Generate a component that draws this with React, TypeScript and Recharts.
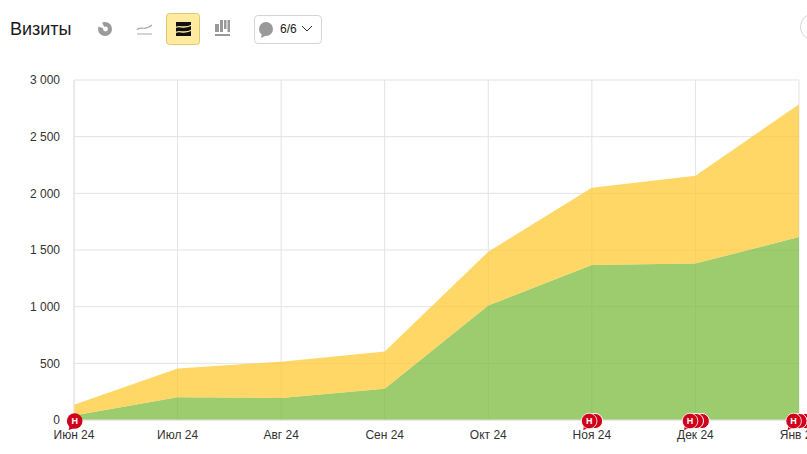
import React from "react";
import { AreaChart, Area, XAxis, YAxis, CartesianGrid, ReferenceDot } from "recharts";

const months = ["Июн 24", "Июл 24", "Авг 24", "Сен 24", "Окт 24", "Ноя 24", "Дек 24", "Янв 25"];
const greenValues = [40, 200, 195, 275, 1010, 1368, 1380, 1615];
const yellowValues = [95, 255, 320, 330, 475, 682, 775, 1170];
const yTicks = [0, 500, 1000, 1500, 2000, 2500, 3000];
const noteCounts = [1, 0, 0, 0, 0, 2, 3, 3];

const data = months.map((month, i) => ({ month, green: greenValues[i], yellow: yellowValues[i] }));
const FONT = "'Liberation Sans', Arial, sans-serif";
const RED = "#d0021b";

const NoteMarker = (props: any) => {
  const { cx, cy, count } = props;
  const fx = cx + (count === 1 ? 0.7 : -(count - 1) * 2.7);
  const y = cy + 1;
  const backs = [];
  for (let k = count - 1; k >= 1; k--) {
    backs.push(
      <circle key={k} cx={fx + k * 5.9} cy={y} r={7.6} fill={RED} stroke="#fff" strokeWidth={1} />
    );
  }
  return (
    <g>
      {backs}
      <path d={`M${fx - 5} ${y + 4} L${fx - 6} ${y + 9} L${fx} ${y + 7} Z`} fill={RED} />
      <circle cx={fx} cy={y} r={7.8} fill={RED} stroke="#fff" strokeWidth={count > 1 ? 0.8 : 0} />
      <text x={fx} y={y + 3.2} textAnchor="middle" fontSize={9} fontWeight={700} fill="#fff" fontFamily={FONT}>
        Н
      </text>
    </g>
  );
};

const Header = () => (
  <div style={{ position: "absolute", left: 0, top: 0, width: 807, height: 60, fontFamily: FONT }}>
    <div style={{ position: "absolute", left: 10, top: 18, fontSize: 18, lineHeight: "22px", color: "#1a1a1a" }}>Визиты</div>
    <svg style={{ position: "absolute", left: 90, top: 10 }} width={140} height={40}>
      <circle cx={15} cy={19} r={7} fill="#9a9a9a" />
      <circle cx={15.5} cy={19} r={2.4} fill="#fff" />
      <path d="M15 19 L7 16 L11 10 Z" fill="#fff" />
      <path d="M47 20 C50 15 54 22 62 15 M47 24 H62" fill="none" stroke="#aaa" strokeWidth={1.2} />
      <rect x={76.5} y={3.5} width={33} height={31} rx={3} fill="#ffeba0" stroke="#e0c873" />
      <rect x={86} y={12} width={15} height={14} fill="#111" />
      <path d="M85 18 C89 14 93 20 102 15 M85 23 C89 19 93 25 102 20" fill="none" stroke="#ffeba0" strokeWidth={1.3} />
      <path d="M125 14h4v8h-4z M130 10h3v12h-3z M134 10h2.5v9h-2.5z M137.5 10h2.5v12h-2.5z M125 24h15v2h-15z" fill="#999" />
    </svg>
    <div style={{ position: "absolute", left: 254, top: 15, width: 66, height: 27, border: "1px solid #d5d5d5", borderRadius: 4, background: "#fff" }}>
      <svg style={{ position: "absolute", left: 3, top: 5 }} width={16} height={18}>
        <circle cx={8} cy={8} r={7} fill="#999" />
        <path d="M4 12 L3 17 L9 14 Z" fill="#999" />
      </svg>
      <span style={{ position: "absolute", left: 25, top: 6, fontSize: 12, lineHeight: "14px", color: "#222" }}>6/6</span>
      <svg style={{ position: "absolute", left: 46, top: 9 }} width={12} height={8}>
        <path d="M1 1 L6 6 L11 1" fill="none" stroke="#333" strokeWidth={1} />
      </svg>
    </div>
    <div style={{ position: "absolute", left: 800, top: 13, width: 28, height: 28, border: "1px solid #d5d5d5", borderRadius: "50%", boxSizing: "border-box" }} />
  </div>
);

export default function App() {
  return (
    <div style={{ position: "absolute", left: 0, top: 0, width: 807, height: 454, overflow: "hidden", background: "#fff" }}>
      <Header />
      <div style={{ position: "absolute", left: 0, top: 0 }}>
        <AreaChart
          width={807}
          height={454}
          data={data}
          margin={{ top: 80, right: 8, bottom: 0, left: 0 }}
          style={{ fontFamily: FONT }}
        >
          <CartesianGrid stroke="#e3e3e3" strokeWidth={1} />
          <XAxis
            dataKey="month"
            interval={0}
            height={34}
            tickLine={false}
            axisLine={{ stroke: "#e3e3e3" }}
            tick={{ fontSize: 12, fill: "#333" }}
            tickMargin={4}
          />
          <YAxis
            width={74}
            domain={[0, 3000]}
            ticks={yTicks}
            tickLine={false}
            axisLine={{ stroke: "#e3e3e3" }}
            tick={{ fontSize: 12, fill: "#333" }}
            tickSize={12}
            tickMargin={2}
            tickFormatter={(v: number) => String(v).replace(/\B(?=(\d{3})+$)/g, "\u00a0")}
          />
          <Area dataKey="green" stackId="a" type="linear" stroke="none" fill="#7bbb3e" fillOpacity={0.75} isAnimationActive={false} />
          <Area dataKey="yellow" stackId="a" type="linear" stroke="none" fill="#ffc933" fillOpacity={0.75} isAnimationActive={false} />
          {months.map((m, i) =>
            noteCounts[i] > 0 ? (
              <ReferenceDot
                key={m}
                x={m}
                y={0}
                ifOverflow="visible"
                shape={(p: any) => <NoteMarker {...p} count={noteCounts[i]} />}
              />
            ) : null
          )}
        </AreaChart>
      </div>
    </div>
  );
}
